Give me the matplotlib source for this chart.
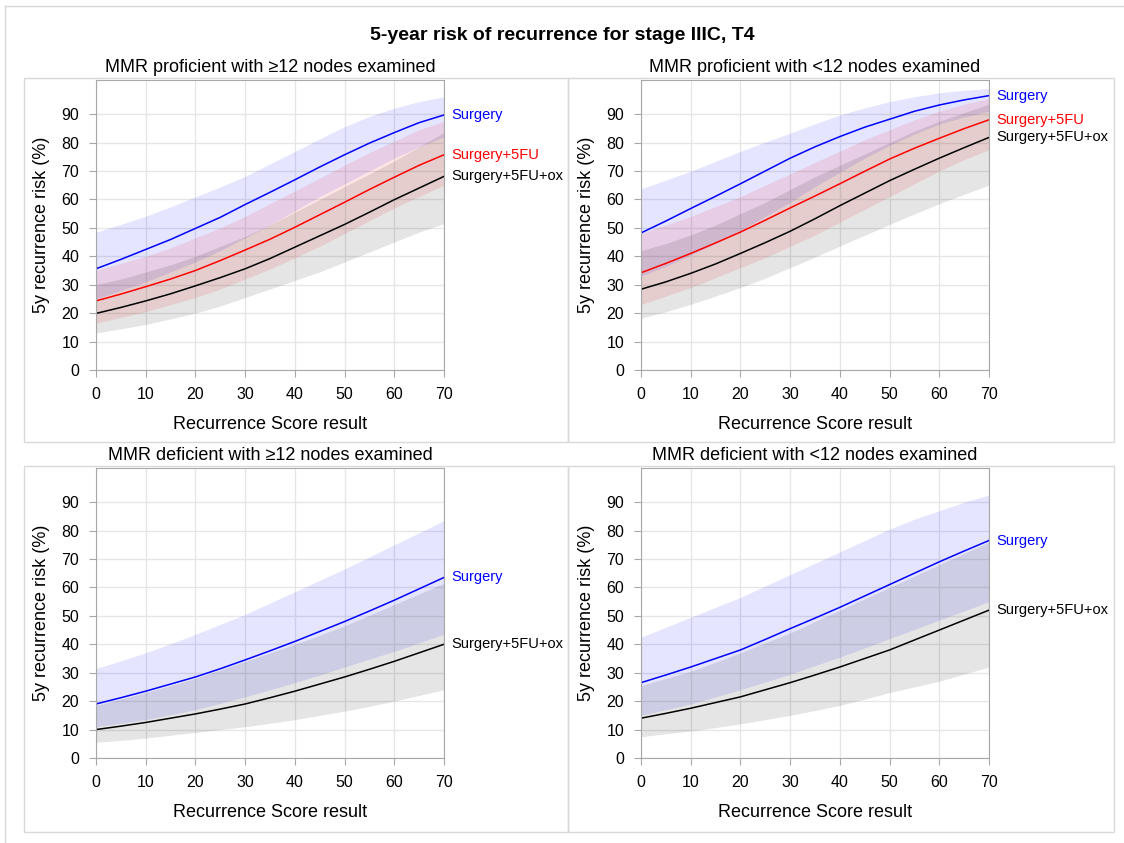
import matplotlib
matplotlib.use("Agg")
import matplotlib.pyplot as plt
from matplotlib.patches import Rectangle
from matplotlib.lines import Line2D

plt.rcParams['font.family'] = ['Liberation Sans', 'DejaVu Sans']

W, H = 1124, 843

score = [0, 5, 10, 15, 20, 25, 30, 35, 40, 45, 50, 55, 60, 65, 70]

# MMR proficient, >=12 nodes
p1_surg = [35.6, 38.9, 42.4, 45.9, 49.8, 53.7, 58.2, 62.5, 66.9, 71.4, 75.7, 79.8, 83.5, 87.0, 89.7]
p1_surg_lo = [25, 28, 31, 34.5, 38, 42, 46.5, 51, 56, 61, 65.5, 70, 74.5, 78.5, 82]
p1_surg_hi = [48.5, 51.2, 54.1, 57.4, 60.9, 64.4, 68.1, 72.5, 76.9, 81.3, 85.6, 89.2, 92.1, 94.4, 96.1]
p1_fu = [24.3, 26.7, 29.3, 32, 35, 38.5, 42.2, 46, 50.2, 54.6, 59, 63.5, 67.8, 72, 75.7]
p1_fu_lo = [16.5, 18.5, 20.5, 23, 25.5, 28.5, 32, 35.5, 39.5, 43.5, 48, 52.5, 57, 61, 65]
p1_fu_hi = [35, 37.5, 40, 43, 46.5, 50, 54, 58.5, 63, 67.5, 72, 76.5, 80.5, 84.5, 87.5]
p1_ox = [19.9, 22, 24.3, 26.8, 29.6, 32.5, 35.6, 39.2, 43.2, 47.2, 51.2, 55.5, 59.9, 64, 68.1]
p1_ox_lo = [13, 14.5, 16, 18, 20, 22.5, 25.5, 28.5, 31.5, 34.5, 38, 41.5, 45, 48.5, 51.5]
p1_ox_hi = [30, 32, 34.5, 37, 40, 43.5, 47, 51, 55.5, 60, 64.5, 69, 73.5, 78.5, 83.5]

# MMR proficient, <12 nodes
p2_surg = [48.2, 52.4, 56.8, 61.1, 65.5, 70, 74.5, 78.5, 82.1, 85.4, 88.2, 91, 93.2, 95, 96.5]
p2_surg_lo = [33, 36.5, 40.5, 44.5, 49, 54, 59, 64.5, 69.5, 74.5, 79, 83, 86.5, 89, 91]
p2_surg_hi = [63.7, 66.8, 69.9, 73.4, 76.9, 80.2, 83.3, 86.6, 89.7, 92.2, 94.4, 96.1, 97.5, 98.4, 99]
p2_fu = [34.2, 37.5, 41, 44.7, 48.5, 52.7, 57, 61.2, 65.5, 69.9, 74.2, 78, 81.5, 84.9, 88]
p2_fu_lo = [23, 26, 29, 32.5, 36, 39.5, 43.5, 47.5, 52, 56.5, 61, 65.5, 70, 74, 77.5]
p2_fu_hi = [48, 51, 54, 57.5, 61, 65, 69, 73, 77, 81, 84.5, 88, 91, 93.5, 95.5]
p2_ox = [28.4, 31, 34, 37.3, 41, 44.8, 48.8, 53.2, 57.8, 62.2, 66.6, 70.6, 74.5, 78.2, 81.8]
p2_ox_lo = [18.2, 20.5, 23.1, 26, 29, 32.3, 36, 39.7, 43.6, 47.4, 51.2, 54.9, 58.5, 61.8, 65]
p2_ox_hi = [42, 44.5, 47.5, 51, 55, 59, 63.5, 68, 72, 76, 80, 84, 87.5, 90.5, 93.5]

# MMR deficient, >=12 nodes
p3_surg = [19, 21.2, 23.5, 26, 28.5, 31.4, 34.5, 37.7, 41, 44.5, 48, 51.7, 55.5, 59.5, 63.5]
p3_surg_lo = [11, 12.2, 13.5, 15.2, 17, 19.2, 21.5, 24, 26.5, 29.2, 32, 34.8, 37.5, 40.5, 43.5]
p3_surg_hi = [31.5, 34.2, 37, 40.2, 43.5, 47, 50.5, 54.5, 58.5, 62.5, 66.5, 70.7, 75, 79.2, 83.5]
p3_ox = [10, 11.2, 12.5, 14, 15.5, 17.2, 19, 21.2, 23.5, 26, 28.5, 31.2, 34, 37, 40]
p3_ox_lo = [5.5, 6.2, 7, 8, 9, 10, 11, 12.2, 13.5, 15, 16.5, 18.2, 20, 22, 24]
p3_ox_hi = [18.5, 20.7, 23, 25.5, 28, 31, 34, 37, 40, 43.2, 46.5, 50.2, 54, 57.7, 61.5]

# MMR deficient, <12 nodes
p4_surg = [26.5, 29.2, 32, 35, 38, 41.7, 45.5, 49.2, 53, 57, 61, 65, 69, 72.8, 76.5]
p4_surg_lo = [15, 17, 19, 21.5, 24, 26.7, 29.5, 32.5, 35.5, 38.7, 42, 45.2, 48.5, 51.7, 55]
p4_surg_hi = [42.5, 46, 49.5, 53, 56.5, 60.5, 64.5, 68.5, 72.5, 76.5, 80.5, 84, 87, 90, 92.5]
p4_ox = [14, 15.7, 17.5, 19.5, 21.5, 24, 26.5, 29.2, 32, 35, 38, 41.5, 45, 48.5, 52]
p4_ox_lo = [7.5, 8.5, 9.5, 10.7, 12, 13.5, 15, 16.7, 18.5, 20.7, 23, 25, 27, 29.5, 32]
p4_ox_hi = [25.5, 28, 30.5, 33.7, 37, 40.5, 44, 48, 52, 56, 60, 64, 68, 72, 76]

titles = ["MMR proficient with \u226512 nodes examined",
          "MMR proficient with <12 nodes examined",
          "MMR deficient with \u226512 nodes examined",
          "MMR deficient with <12 nodes examined"]

SURG = ("Surgery", "#0000ff")
FU = ("Surgery+5FU", "#ff0000")
OX = ("Surgery+5FU+ox", "#000000")

panels = [
    [(SURG, p1_surg, p1_surg_lo, p1_surg_hi), (FU, p1_fu, p1_fu_lo, p1_fu_hi), (OX, p1_ox, p1_ox_lo, p1_ox_hi)],
    [(SURG, p2_surg, p2_surg_lo, p2_surg_hi), (FU, p2_fu, p2_fu_lo, p2_fu_hi), (OX, p2_ox, p2_ox_lo, p2_ox_hi)],
    [(SURG, p3_surg, p3_surg_lo, p3_surg_hi), (OX, p3_ox, p3_ox_lo, p3_ox_hi)],
    [(SURG, p4_surg, p4_surg_lo, p4_surg_hi), (OX, p4_ox, p4_ox_lo, p4_ox_hi)],
]


def fx(px):
    return px / W


def fy(py):
    return 1 - py / H


fig = plt.figure(figsize=(W / 100, H / 100), dpi=100)

# page frame and panel cells
fig.add_artist(Line2D([fx(5), fx(1124)], [fy(6), fy(6)], color="#d8d8d8", lw=1))
fig.add_artist(Line2D([fx(5), fx(5)], [fy(6), fy(843)], color="#d8d8d8", lw=1))
for (cx0, cx1) in [(24, 568), (568, 1114)]:
    for (cy0, cy1) in [(78, 442), (466, 832)]:
        fig.add_artist(Rectangle((fx(cx0), fy(cy1)), fx(cx1 - cx0), (cy1 - cy0) / H,
                                 fill=False, edgecolor="#d8d8d8", lw=1))

fig.text(0.5, fy(36), "5-year risk of recurrence for stage IIIC, T4",
         ha="center", va="center", fontsize=14, fontweight="bold")

ax_px = [(96, 444, 80, 370), (641, 989, 80, 370), (96, 444, 468, 758), (641, 989, 468, 758)]

for i, (x0, x1, y0, y1) in enumerate(ax_px):
    ax = fig.add_axes([fx(x0), fy(y1), fx(x1 - x0), (y1 - y0) / H])
    for (name, col), mid, lo, hi in panels[i]:
        ax.fill_between(score, lo, hi, color=col, alpha=0.1, lw=0)
    for (name, col), mid, lo, hi in panels[i]:
        ax.plot(score, mid, color=col, lw=1.1)
        ax.annotate(name, (score[-1], mid[-1]), xytext=(5, 0), textcoords="offset points",
                    ha="left", va="center", color=col, fontsize=10.5, annotation_clip=False)
    ax.set_xlim(0, 70)
    ax.set_ylim(0, 102)
    ax.set_xticks(range(0, 71, 10))
    ax.set_yticks(range(0, 91, 10))
    ax.grid(True, color="#e6e6e6", lw=1)
    ax.set_axisbelow(True)
    for s in ax.spines.values():
        s.set_color("#a8a8a8")
    ax.tick_params(colors="#a8a8a8", labelcolor="black", labelsize=11.5, length=5, pad=7)
    ax.set_xlabel("Recurrence Score result", fontsize=13, labelpad=10)
    ax.set_ylabel("5y recurrence risk (%)", fontsize=13, labelpad=8)
    ax.set_title(titles[i], fontsize=13, pad=6)

fig.savefig("out.png", dpi=100)
